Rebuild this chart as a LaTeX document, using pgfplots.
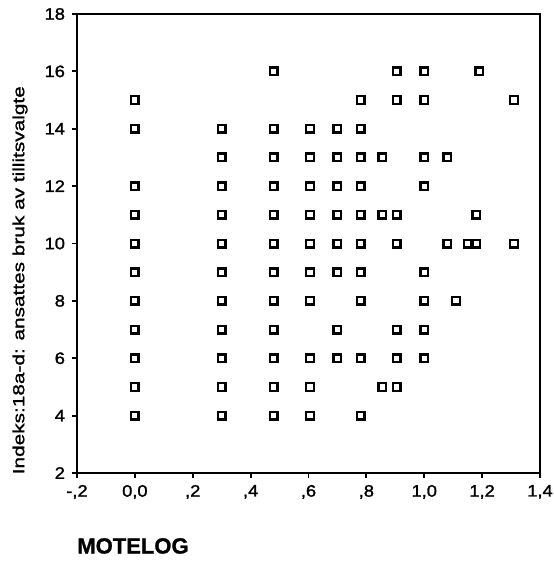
\documentclass[border=0pt]{standalone}
\usepackage{fontspec}
\setmainfont{Liberation Sans}
\newfontfamily\tickfont[FakeStretch=1.1,FakeBold=1.5]{Liberation Sans}
\newfontfamily\labfont[FakeStretch=1.3,FakeBold=1.4]{Liberation Sans}
\newfontfamily\boldfont[FakeStretch=1.0,FakeBold=1.2]{Liberation Sans Bold}
\usepackage{pgfplots}
\pgfplotsset{compat=1.18}
\pgfplotstableread{
x y
0.48 16
0.905 16
1.0 16
1.19 16
0 15
0.78 15
0.905 15
1.0 15
1.31 15
0 14
0.30 14
0.48 14
0.605 14
0.70 14
0.78 14
0.30 13
0.48 13
0.605 13
0.70 13
0.78 13
0.855 13
1.0 13
1.08 13
0 12
0.30 12
0.48 12
0.605 12
0.70 12
0.78 12
1.0 12
0 11
0.30 11
0.48 11
0.605 11
0.70 11
0.78 11
0.855 11
0.905 11
1.18 11
0 10
0.30 10
0.48 10
0.605 10
0.70 10
0.78 10
0.905 10
1.08 10
1.15 10
1.18 10
1.31 10
0 9
0.30 9
0.48 9
0.605 9
0.70 9
0.78 9
1.0 9
0 8
0.30 8
0.48 8
0.605 8
0.78 8
1.0 8
1.11 8
0 7
0.30 7
0.48 7
0.70 7
0.905 7
1.0 7
0 6
0.30 6
0.48 6
0.605 6
0.70 6
0.78 6
0.905 6
1.0 6
0 5
0.30 5
0.48 5
0.605 5
0.855 5
0.905 5
0 4
0.30 4
0.48 4
0.605 4
0.78 4
}\pts
\begin{document}
\begin{tikzpicture}
\useasboundingbox (0,0) rectangle (276.5pt,281.5pt);
\begin{axis}[
  at={(38.5pt,45pt)}, anchor=south west,
  width=231.5pt, height=229.5pt, scale only axis,
  xmin=-0.2, xmax=1.4, ymin=2, ymax=18,
  xtick={-0.2,0,0.2,0.4,0.6,0.8,1.0,1.2,1.4},
  xticklabels={{-,2},{0,0},{,2},{,4},{,6},{,8},{1,0},{1,2},{1,4}},
  ytick={2,4,6,8,10,12,14,16,18},
  yticklabels={2,4,6,8,10,12,14,16,18},
  tick align=outside, xtick pos=bottom, ytick pos=left,
  major tick length=2.5pt,
  tick style={line width=0.9pt, black},
  axis line style={line width=1pt},
  ticklabel style={font=\tickfont\fontsize{8.3}{9}\selectfont},
  xlabel={MOTELOG},
  ylabel={Indeks:18a-d: ansattes bruk av tillitsvalgte},
  every axis x label/.style={at={(rel axis cs:0,-0.159)}, anchor=west, inner sep=0pt, font=\boldfont\fontsize{11}{13}\selectfont},
  every axis y label/.style={at={(rel axis cs:-0.123,0.42)}, rotate=90, anchor=center, font=\labfont\fontsize{8}{10}\selectfont},
]
\addplot[only marks, mark=square, mark size=1.9pt, mark options={line width=1.2pt, draw=black, fill=white}] table[x=x,y=y] {\pts};
\end{axis}
\end{tikzpicture}
\end{document}
